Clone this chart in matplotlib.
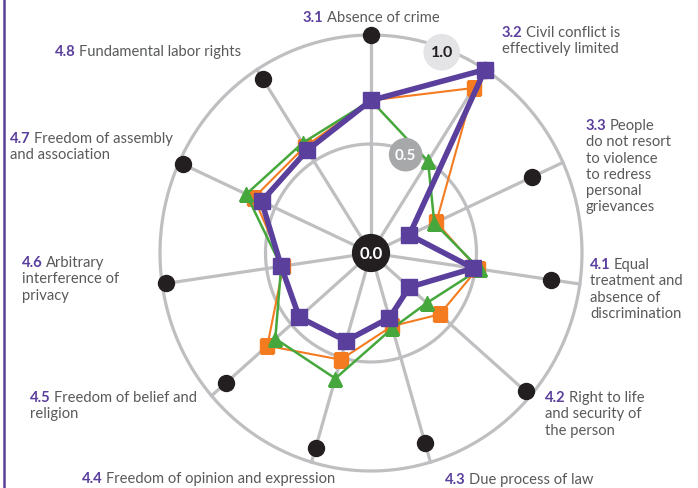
import numpy as np
import matplotlib
matplotlib.use("Agg")
import matplotlib.pyplot as plt

# ---------------- data ----------------
codes = ["3.1", "3.2", "3.3", "4.1", "4.2", "4.3", "4.4", "4.5", "4.6", "4.7", "4.8"]
names = [
    ["Absence of crime"],
    ["Civil conflict is", "effectively limited"],
    ["People", "do not resort", "to violence", "to redress", "personal", "grievances"],
    ["Equal", "treatment and", "absence of", "discrimination"],
    ["Right to life", "and security of", "the person"],
    ["Due process of law"],
    ["Freedom of opinion and expression"],
    ["Freedom of belief and", "religion"],
    ["Arbitrary", "interference of", "privacy"],
    ["Freedom of assembly", "and association"],
    ["Fundamental labor rights"],
]
purple = [0.70, 1.00, 0.20, 0.49, 0.24, 0.31, 0.42, 0.45, 0.43, 0.57, 0.56]
orange = [0.70, 0.90, 0.34, 0.51, 0.43, 0.35, 0.51, 0.65, 0.42, 0.61, 0.58]
green = [0.70, 0.50, 0.33, 0.52, 0.35, 0.36, 0.60, 0.60, 0.43, 0.65, 0.60]
top = [1.00, 1.00, 0.84, 0.86, 0.97, 0.91, 0.93, 0.91, 0.98, 0.98, 0.95]
ring_labels = ["0.0", "0.5", "1.0"]
ring_values = [0.0, 0.5, 1.0]

# ---------------- style ----------------
W, H = 698, 489
PURPLE = "#5a3f9c"
ORANGE = "#f47b20"
GREEN = "#46a83c"
BLACK = "#231f20"
GRID = "#bfbfc2"
TEXT = "#58595b"
plt.rcParams["font.family"] = ["Lato", "DejaVu Sans"]

fig = plt.figure(figsize=(W / 100, H / 100), dpi=100)
cx, cy, RX, RY = 371, 254, 211, 218
ax = fig.add_axes([(cx - RX) / W, (H - cy - RY) / H, 2 * RX / W, 2 * RY / H], projection="polar")
ax.set_aspect("auto")
ax.set_theta_offset(np.pi / 2)
ax.set_theta_direction(-1)
ax.set_ylim(0, 1.0)
ax.axis("off")

n = len(codes)
theta = np.arange(n) * 2 * np.pi / n

# grid: rings and spokes
tt = np.linspace(0, 2 * np.pi, 400)
for rv in [0.5, 1.0]:
    ax.plot(tt, np.full_like(tt, rv), color=GRID, lw=2.3, clip_on=False, zorder=1)
for t in theta:
    ax.plot([t, t], [0, 1.0], color=GRID, lw=2.3, clip_on=False, zorder=1)

def closed(v):
    return np.append(theta, theta[0]), np.append(v, v[0])

ax.plot(theta, top, "o", color=BLACK, ms=11.5, zorder=2, clip_on=False)
t_, v_ = closed(orange)
ax.plot(t_, v_, "-", color=ORANGE, lw=1.5, zorder=3)
ax.plot(theta, orange, "s", color=ORANGE, ms=10.5, zorder=3)
t_, v_ = closed(green)
ax.plot(t_, v_, "-", color=GREEN, lw=1.8, zorder=4)
ax.plot(theta, green, "^", color=GREEN, ms=10.5, zorder=4)
t_, v_ = closed(purple)
ax.plot(t_, v_, "-", color=PURPLE, lw=4.0, zorder=5, clip_on=False)
ax.plot(theta, purple, "s", color=PURPLE, ms=12, zorder=5, clip_on=False)

# ring value badges
badge_angle = np.deg2rad(20)
badge_style = {
    "0.0": dict(fc=BLACK, tc="white", size=12, pad=0.45),
    "0.5": dict(fc="#a7a8aa", tc="white", size=11, pad=0.4),
    "1.0": dict(fc="#e4e4e6", tc=BLACK, size=11.5, pad=0.45),
}
for lab, rv in zip(ring_labels, ring_values):
    st = badge_style[lab]
    r_pos = rv - 0.02 if rv > 0 else 0
    ax.text(badge_angle if rv > 0 else 0, r_pos, lab, ha="center", va="center",
            fontsize=st["size"], fontweight="bold", color=st["tc"], zorder=10,
            bbox=dict(boxstyle="circle,pad=%g" % st["pad"], fc=st["fc"], ec="none"))

# ---------------- category labels ----------------
label_pos = [
    (303, 18), (502, 33), (586, 126), (590, 265), (545, 398), (445, 480),
    (82, 479), (30, 398), (22, 263), (10, 139), (55, 52),
]
LH = 16.3
fs = 10.6
fig.canvas.draw()
renderer = fig.canvas.get_renderer()
for code, lines, (x, y) in zip(codes, names, label_pos):
    tnum = fig.text(x / W, 1 - y / H, code, color=PURPLE, fontweight="bold",
                    fontsize=fs, va="center", ha="left")
    bb = tnum.get_window_extent(renderer)
    fig.text((x + bb.width + 3) / W, 1 - y / H, lines[0], color=TEXT,
             fontsize=fs, va="center", ha="left")
    for i, ln in enumerate(lines[1:], start=1):
        fig.text(x / W, 1 - (y + i * LH) / H, ln, color=TEXT,
                 fontsize=fs, va="center", ha="left")

# left purple rule
fig.add_artist(plt.Line2D([3.5 / W, 3.5 / W], [0, 1], color=PURPLE, lw=1.8))

fig.savefig("out.png", dpi=100)
